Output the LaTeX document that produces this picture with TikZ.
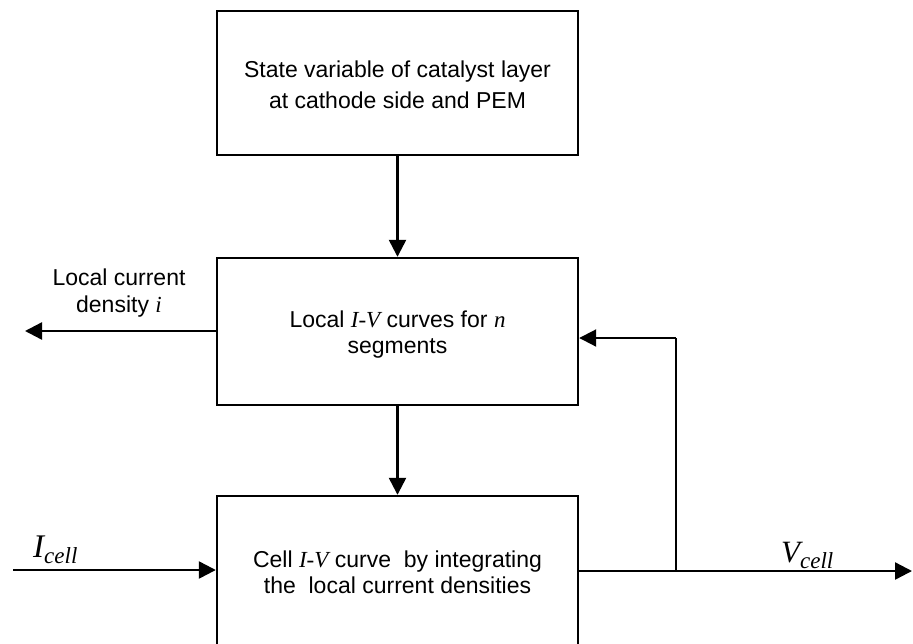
\documentclass[tikz,border=0pt]{standalone}
\usepackage{fontspec}
\setmainfont{Liberation Sans}
\newfontfamily\tms{Liberation Serif}
\usetikzlibrary{arrows.meta}
\tikzset{
  boxnode/.style={draw, line width=2.4pt, minimum width=361pt, inner sep=0pt},
  txt/.style={align=center, inner sep=0pt, font=\fontsize{23}{26}\selectfont},
  arr/.style={line width=2.4pt, -{Triangle[length=17pt,width=17pt]}},
  thinline/.style={line width=2pt},
}
\newcommand{\mi}[1]{{\tms\itshape #1}}
\begin{document}
\begin{tikzpicture}[x=1pt,y=-1pt]
\useasboundingbox (0,0) rectangle (913,643);
\clip (0,0) rectangle (913,643);
\node[boxnode, minimum height=144pt] (b1) at (397.5,83) {};
\node[boxnode, minimum height=147pt] (b2) at (397.5,331.5) {};
\node[boxnode, minimum height=220pt] (b3) at (397.5,606) {};
\node[txt, anchor=base, font=\fontsize{23}{31}\selectfont] (t1) at (397.5,108) {State variable of catalyst layer\\at cathode side and PEM};
\node[txt, anchor=base] (t2) at (397.5,353) {Local \mi{I-V} curves for \mi{n}\\segments};
\node[txt, anchor=base] (t3) at (397.5,593) {Cell \mi{I-V} curve\ \ by integrating\\the\ \ local current densities};
\coordinate (lo) at (25,331);
\coordinate (li) at (13,570);
\coordinate (ro) at (912,571);
\coordinate (fb) at (676,571);
\coordinate (fc) at (676,338);
\draw[arr] (b1.south) -- (b2.north);
\draw[arr] (b2.south) -- (b3.north);
\draw[arr] (b2.west |- lo) -- (lo);
\draw[arr] (li) -- (b3.west |- li);
\draw[arr] (b3.east |- ro) -- (ro);
\draw[thinline] (fb) -- (fc);
\draw[arr, line width=2pt] (fc) -- (b2.east |- fc);
\node[txt, anchor=base, font=\fontsize{23}{27}\selectfont] (lab) at (119,312) {Local current\\density \mi{i}};
\node[anchor=base west, inner sep=0pt] (ic) at (33,557) {\tms\itshape\fontsize{33}{33}\selectfont I\raisebox{-6pt}{\fontsize{23}{23}\selectfont cell}};
\node[anchor=base west, inner sep=0pt] (vc) at (781,562) {\tms\itshape\fontsize{31}{31}\selectfont V\raisebox{-6pt}{\fontsize{23}{23}\selectfont cell}};
\end{tikzpicture}
\end{document}
